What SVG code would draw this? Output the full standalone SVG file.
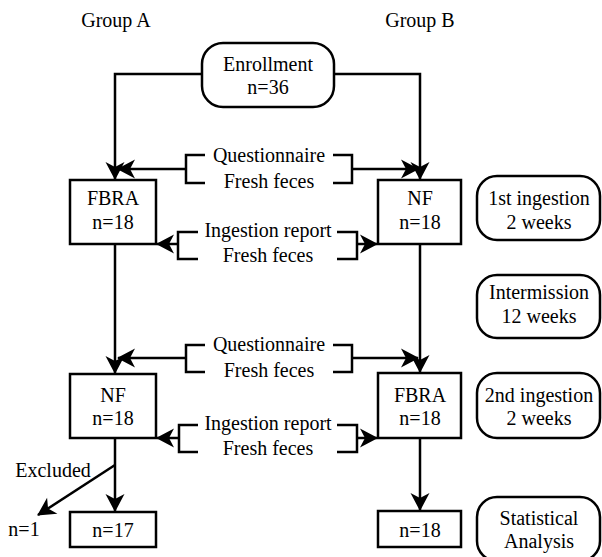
<svg xmlns="http://www.w3.org/2000/svg" width="602" height="557" viewBox="0 0 602 557">
<defs>
<style>
text{font-family:"Liberation Serif","Times New Roman",serif;font-size:20px;fill:#000;text-anchor:middle}
.box{fill:#fff;stroke:#000;stroke-width:2.5}
.ln{fill:none;stroke:#000;stroke-width:2.5}
.arr{marker-end:url(#ah)}
</style>
<marker id="ah" markerUnits="userSpaceOnUse" viewBox="-20 -11 22 22" markerWidth="22" markerHeight="22" refX="-1" refY="0" orient="auto">
<path d="M0,0 L-18,-9.5 L-13,0 L-18,9.5 Z" fill="#000"/>
</marker>
</defs>
<rect width="602" height="557" fill="#fff"/>

<g id="labels">
<text x="116" y="27">Group A</text>
<text x="420" y="27">Group B</text>
</g>

<g id="connectors">
<path class="ln arr" d="M202,74 H115 V179"/>
<path class="ln arr" d="M334,74 H420 V179"/>
<path class="ln" d="M205,155 H186 V183 H205"/>
<path class="ln arr" d="M186,169 H118"/>
<path class="ln" d="M333,155 H352 V183 H333"/>
<path class="ln arr" d="M352,169 H418"/>
<path class="ln" d="M198,232 H178 V259 H198"/>
<path class="ln arr" d="M178,244 H157"/>
<path class="ln" d="M337,232 H357 V259 H337"/>
<path class="ln arr" d="M357,244 H377"/>
<path class="ln arr" d="M115,244 V373"/>
<path class="ln arr" d="M420,244 V372"/>
<path class="ln" d="M205,345 H186 V372 H205"/>
<path class="ln arr" d="M186,358 H118"/>
<path class="ln" d="M333,345 H352 V372 H333"/>
<path class="ln arr" d="M352,358 H418"/>
<path class="ln" d="M198,425 H179 V452 H198"/>
<path class="ln arr" d="M179,438 H157"/>
<path class="ln" d="M337,425 H357 V452 H337"/>
<path class="ln arr" d="M357,438 H377"/>
<path class="ln arr" d="M115,438 V511"/>
<path class="ln arr" d="M115,465 L38,515"/>
<path class="ln arr" d="M420,438 V510"/>
</g>

<g id="edge-labels">
<text x="269" y="162">Questionnaire</text>
<text x="269" y="188">Fresh feces</text>
<text x="268" y="237">Ingestion report</text>
<text x="268" y="262">Fresh feces</text>
<text x="269" y="351">Questionnaire</text>
<text x="269" y="377">Fresh feces</text>
<text x="268" y="430">Ingestion report</text>
<text x="268" y="455">Fresh feces</text>
<text x="53" y="477">Excluded</text>
<text x="24" y="536">n=1</text>
</g>

<g id="enrollment">
<rect class="box" x="202" y="43" width="132" height="64" rx="21"/>
<text x="268" y="71">Enrollment</text>
<text x="268" y="94">n=36</text>
</g>

<g id="a-fbra">
<rect class="box" x="70" y="180" width="86" height="64"/>
<text x="113" y="205">FBRA</text>
<text x="113" y="229">n=18</text>
</g>
<g id="b-nf">
<rect class="box" x="378" y="180" width="83" height="64"/>
<text x="420" y="205">NF</text>
<text x="420" y="229">n=18</text>
</g>
<g id="a-nf">
<rect class="box" x="70" y="374" width="86" height="64"/>
<text x="113" y="402">NF</text>
<text x="113" y="425">n=18</text>
</g>
<g id="b-fbra">
<rect class="box" x="378" y="373" width="83" height="65"/>
<text x="420" y="402">FBRA</text>
<text x="420" y="425">n=18</text>
</g>
<g id="a-final">
<rect class="box" x="70" y="512" width="86" height="35"/>
<text x="113" y="537">n=17</text>
</g>
<g id="b-final">
<rect class="box" x="378" y="511" width="83" height="36"/>
<text x="420" y="537">n=18</text>
</g>

<g id="phase1">
<rect class="box" x="477" y="176" width="123" height="64" rx="20"/>
<text x="539" y="205">1st ingestion</text>
<text x="539" y="229">2 weeks</text>
</g>
<g id="phase2">
<rect class="box" x="477" y="275" width="123" height="63" rx="20"/>
<text x="539" y="299">Intermission</text>
<text x="539" y="323">12 weeks</text>
</g>
<g id="phase3">
<rect class="box" x="477" y="373" width="123" height="65" rx="20"/>
<text x="539" y="402">2nd ingestion</text>
<text x="539" y="425">2 weeks</text>
</g>
<g id="phase4">
<rect class="box" x="477" y="497" width="123" height="64" rx="20"/>
<text x="539" y="525">Statistical</text>
<text x="539" y="548">Analysis</text>
</g>
</svg>
